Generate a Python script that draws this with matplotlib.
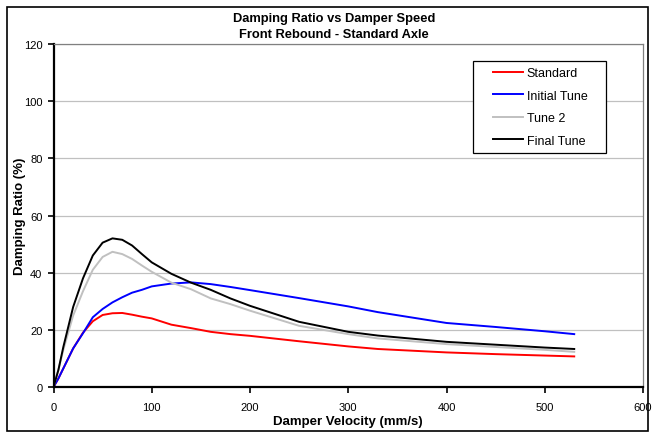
import matplotlib
matplotlib.use("Agg")
import matplotlib.pyplot as plt
from matplotlib.patches import Rectangle

plt.rcParams['font.family'] = ['Liberation Sans', 'DejaVu Sans']

# damper velocity (mm/s)
velocity = [0, 5, 10, 20, 30, 40, 50, 60, 70, 80, 90, 100, 120, 140, 160, 180,
            200, 250, 300, 330, 400, 450, 500, 530]
standard = [0, 3, 6.5, 13.5, 19, 23, 25.2, 25.8, 25.9, 25.3, 24.6, 24.0, 21.8,
            20.6, 19.3, 18.5, 17.9, 16.0, 14.2, 13.3, 12.1, 11.5, 11.0, 10.7]
initial_tune = [0, 3, 6.5, 13.5, 18.8, 24.4, 27.3, 29.6, 31.4, 33.0, 34.0, 35.2, 36.2,
                36.6, 36.0, 35.0, 33.9, 31.1, 28.2, 26.2, 22.4, 21.0, 19.5, 18.5]
tune_2 = [0, 6, 13, 25, 33.5, 41, 45.5, 47.3, 46.5, 44.8, 42.5, 40.3, 36.5,
          34.2, 31.0, 29.0, 26.7, 21.4, 18.5, 17.0, 15.0, 14.0, 13.0, 12.3]
final_tune = [0, 6, 14, 28, 38, 46, 50.5, 52, 51.5, 49.5, 46.5, 43.6, 39.6,
              36.5, 34.0, 31.0, 28.4, 22.8, 19.3, 18.0, 15.8, 14.8, 13.8, 13.3]

fig = plt.figure(figsize=(6.54, 4.35), dpi=100)
# outer chart border
fig.patches.append(Rectangle((6.5/654, 3/435), 641/654, 424/435, transform=fig.transFigure,
                             fill=False, edgecolor='black', linewidth=1.2))
ax = fig.add_axes([53.5/654, 1-388/435, (643-53.5)/654, (388-45)/435])

ax.plot(velocity, standard, color='#ff0000', lw=1.4, label='Standard')
ax.plot(velocity, initial_tune, color='#0000ff', lw=1.4, label='Initial Tune')
ax.plot(velocity, tune_2, color='#c0c0c0', lw=1.4, label='Tune 2')
ax.plot(velocity, final_tune, color='#000000', lw=1.4, label='Final Tune')

ax.set_xlim(0, 600)
ax.set_ylim(0, 120)
ax.set_xticks(range(0, 601, 100))
ax.set_yticks(range(0, 121, 20))
ax.yaxis.grid(True, color='#c0c0c0', lw=0.9)
ax.set_axisbelow(True)
for s in ['top', 'right']:
    ax.spines[s].set_color('#808080')
    ax.spines[s].set_linewidth(0.9)
for s in ['left', 'bottom']:
    ax.spines[s].set_linewidth(1.6)
ax.tick_params(direction='out', length=4.5, width=1.2, labelsize=8, pad=3.5)
ax.tick_params(axis='x', pad=6)

ax.set_xlabel('Damper Velocity (mm/s)', fontsize=9.5, fontweight='bold')
ax.xaxis.set_label_coords(0.5, -0.083)
ax.set_ylabel('Damping Ratio (%)', fontsize=9.5, fontweight='bold')
ax.yaxis.set_label_coords(-0.046, 0.5)
fig.text(0.511, 1-19/435, 'Damping Ratio vs Damper Speed', ha='center', va='center',
         fontsize=9.3, fontweight='bold')
fig.text(0.511, 1-35/435, 'Front Rebound - Standard Axle', ha='center', va='center',
         fontsize=9.3, fontweight='bold')

# legend box drawn by hand, entries placed inside it
ax.add_patch(Rectangle(((473-53.5)/589.5, (388-154)/343), 133/589.5, 92/343,
                       transform=ax.transAxes, facecolor='white', edgecolor='black',
                       linewidth=0.9, zorder=4))
leg = ax.legend(loc='upper left', bbox_to_anchor=((493-53.5)/589.5, (388-68)/343),
                fontsize=9, frameon=False, handlelength=2.4, handletextpad=0.3,
                labelspacing=0.84, borderpad=0, borderaxespad=0)
leg.set_zorder(5)

plt.savefig('out.png', dpi=100)
